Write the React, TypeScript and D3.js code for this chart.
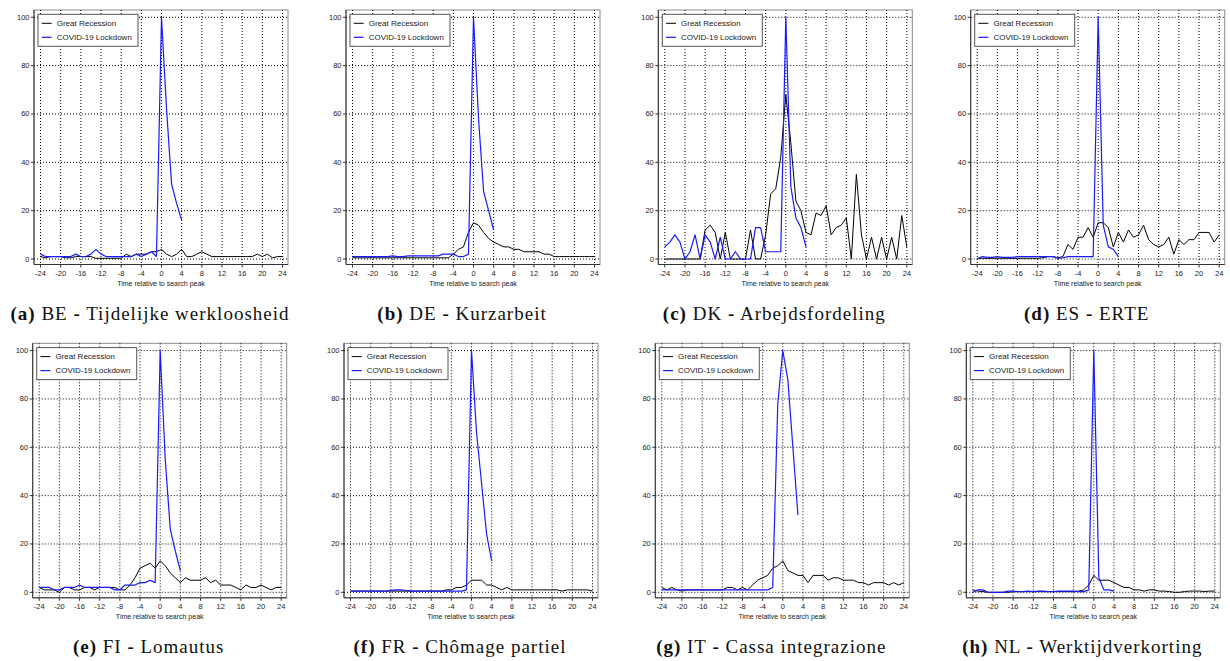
import React from "react";
import * as d3 from "d3";

// ---------- data ----------
const monthsGR = [-24,-23,-22,-21,-20,-19,-18,-17,-16,-15,-14,-13,-12,-11,-10,-9,-8,-7,-6,-5,-4,-3,-2,-1,0,1,2,3,4,5,6,7,8,9,10,11,12,13,14,15,16,17,18,19,20,21,22,23,24];
const monthsCOVID = [-24,-23,-22,-21,-20,-19,-18,-17,-16,-15,-14,-13,-12,-11,-10,-9,-8,-7,-6,-5,-4,-3,-2,-1,0,1,2,3,4];
const xTicks = [-24,-20,-16,-12,-8,-4,0,4,8,12,16,20,24];
const yTicks = [0,20,40,60,80,100];
const seriesNames = ["Great Recession", "COVID-19 Lockdown"];
const xTitle = "Time relative to search peak";

const beGR = [1,0.5,1,1,1,0.5,0.5,1,1,1, 1,0.3,0.3,0.3,0.3,0.3,0.3,2,1,2, 2,2,3,3,4,2,1,2,4,1, 1,2,3,2,1,1,1,1,1,1, 1,1,1,2,1,2,0.5,1,1];
const beCOVID = [2,1,1,1,1,1,1,2,1,1, 2,4,2,1,1,1,1,1,1,2, 1,2,3,1,100,62,31,23,16];

const deGR = [0.5,0.5,0.5,0.5,0.5,0.5,0.5,0.5,0.5,0.5, 0.5,0.5,0.5,0.5,0.5,0.5,0.5,0.5,0.5,0.5, 2,4,5,11,15,14,11,8.5,7,6, 5,5,4,4,3,3,3,3,2,2, 1,1,1,1,1,1,1,1,1];
const deCOVID = [1,1,1,1,1,1,1,1,1.3,1, 1,1.3,1.3,1.3,1.3,1.3,1.3,1.3,2,2, 2,1,1,2,100,58,28,20,12];

const dkGR = [0,0,0,0,0,0,0,0,12,14, 11,0,11,0,0,0,0,12,0,0, 10,27,29,42,68,48,24,20,11,10, 19,18,22,10,13,14,17,0,35,10, 0,9,0,9,0,9,0,18,5];
const dkCOVID = [5,7,10,7,0,3,10,0,10,7, 0,9,0,0,3,0,0,0,13,13, 3,3,3,3,100,30,17,13,5];

const esGR = [0.3,0.3,0.3,0.3,0.3,0.3,0.3,0.3,0.3,0.3, 0.3,0.3,0.3,0.5,1,1,0.5,1,6,4, 9,9,13,9,15,15,13,5,11,7, 12,9,10,14,8,6,5,6,9,2, 8,6,8,8,11,11,11,7,10];
const esCOVID = [0,1,0.7,0.7,1,0.7,0.7,0.7,1,1, 1,1,1,1,1,1,0.3,0.5,1,1, 1,1,1,1,100,14,5,4,1];

const fiGR = [2,1,1,1,0,2,2,1,1,2, 2,1,2,2,2,2,1,1,3,6, 10,11,12,10,13,11,8,6,4,6, 5,5,5,6,4,5,3,3,3,2, 1,3,2,2,3,2,1,2,2];
const fiCOVID = [2,2,2,1,1,2,2,2,3,2, 2,2,2,2,2,1,1,3,3,3, 4,4,5,4,100,55,26,17,9];

const frGR = [0.5,0.5,0.5,0.5,0.5,0.5,0.5,0.5,0.5,0.5, 0.5,0.5,0.5,0.5,0.5,0.5,0.5,0.5,0.5,1, 1,2,2,3,5,5,5,3,3,2, 1,2,1,1,1,1,1,1,1,1, 1,1,0.5,1,1,1,1,1,0.5];
const frCOVID = [0.5,0.5,0.5,0.5,0.5,0.5,0.5,0.5,0.8,1, 1,0.7,0.5,0.5,0.5,0.5,0.5,0.5,0.5,0.5, 0.5,0.5,0.5,1,100,66,45,24,13];

const itGR = [2,1,2,1,0.5,1,1,1,1,1, 1,1,1,2,2,1,2,1,3,5, 6,7,10,11,13,9,8,7,7,4, 7,7,7,5,6,6,5,5,5,4, 4,3,4,4,4,3,4,3,4];
const itCOVID = [1,1,1,1,1,1,1,1,1,1, 1,1,1,1,1,1,1,1,1,1, 1,1,2,78,100,88,60,32];

const nlGR = [1,0.5,0.3,0,0,0,0,0,0.3,0.3, 0.3,0.3,0.3,0.3,0.3,0.3,0.3,0.3,0.3,0.3, 0.3,0.5,1,3,7,5,5,5,4,3, 2,2,1,1,0.5,1,1,0.5,0.5,0.3, 0,0,0.3,0.5,0.5,0.5,0.3,0.5,0.5];
const nlCOVID = [0,1,1,0,0,0,0,0.5,0.5,0.3, 0.3,0.5,0.3,0.5,0.5,0.3,0.3,0.5,0.5,0.5, 0.5,0.3,0.3,1,100,6,1,1,0.5];

const panelLetters = ["a","b","c","d","e","f","g","h"];
const panelCodes = ["BE","DE","DK","ES","FI","FR","IT","NL"];
const panelNames = ["Tijdelijke werkloosheid","Kurzarbeit","Arbejdsfordeling","ERTE","Lomautus","Chômage partiel","Cassa integrazione","Werktijdverkorting"];
const grSeries = [beGR, deGR, dkGR, esGR, fiGR, frGR, itGR, nlGR];
const covidSeries = [beCOVID, deCOVID, dkCOVID, esCOVID, fiCOVID, frCOVID, itCOVID, nlCOVID];

// ---------- layout ----------
const frameLefts = [34, 346, 658.3, 970.7, 32.7, 344, 655.3, 966.3];
const frameTops = [10, 10, 10, 10, 343.3, 343.3, 343.3, 343.3];
const FRAME_W = 254;
const FRAME_H = 254.5;
const SANS = "'Liberation Sans', Arial, Helvetica, sans-serif";
const SERIF = "'Liberation Serif', 'Times New Roman', serif";
const BLUE = "#1a1aff";

function Panel({ idx }: { idx: number }) {
  const fl = frameLefts[idx];
  const ft = frameTops[idx];
  const x = d3.scaleLinear().domain([-24, 24]).range([fl + 6.5, fl + 248.5]);
  const y = d3.scaleLinear().domain([0, 100]).range([ft + 249, ft + 7.3]);
  const line = d3
    .line<[number, number]>()
    .x((d) => x(d[0]))
    .y((d) => y(d[1]));
  const gr = grSeries[idx].map((v, i) => [monthsGR[i], v] as [number, number]);
  const cv = covidSeries[idx].map((v, i) => [monthsCOVID[i], v] as [number, number]);
  const bottom = ft + FRAME_H;
  return (
    <g>
      <rect x={fl} y={ft} width={FRAME_W} height={FRAME_H} fill="white" stroke="#8a8a8a" strokeWidth={1} />
      {/* grid */}
      {xTicks.map((t) => (
        <line key={"gx" + t} x1={x(t)} x2={x(t)} y1={ft} y2={bottom} stroke="#000" strokeWidth={1} strokeDasharray="1,2" />
      ))}
      {yTicks.map((t) => (
        <line key={"gy" + t} x1={fl} x2={fl + FRAME_W} y1={y(t)} y2={y(t)} stroke="#000" strokeWidth={1} strokeDasharray="1,2" />
      ))}
      {/* axes */}
      <line x1={fl} x2={fl} y1={ft} y2={bottom} stroke="#333" strokeWidth={1} />
      <line x1={fl} x2={fl + FRAME_W} y1={bottom} y2={bottom} stroke="#333" strokeWidth={1} />
      {xTicks.map((t) => (
        <g key={"tx" + t}>
          <line x1={x(t)} x2={x(t)} y1={bottom} y2={bottom + 3} stroke="#333" strokeWidth={1} />
          <text x={x(t)} y={bottom + 8.5} textAnchor="middle" dominantBaseline="central" fontFamily={SANS} fontSize={7.5} fill="#222">
            {t}
          </text>
        </g>
      ))}
      {yTicks.map((t) => (
        <g key={"ty" + t}>
          <line x1={fl - 3} x2={fl} y1={y(t)} y2={y(t)} stroke="#333" strokeWidth={1} />
          <text x={fl - 4.5} y={y(t)} textAnchor="end" dominantBaseline="central" fontFamily={SANS} fontSize={7.5} fill="#222">
            {t}
          </text>
        </g>
      ))}
      <text x={fl + FRAME_W / 2} y={bottom + 19} textAnchor="middle" dominantBaseline="central" fontFamily={SANS} fontSize={7} fill="#222">
        {xTitle}
      </text>
      {/* legend */}
      <rect x={fl + 4} y={ft + 4.3} width={100} height={32} fill="white" stroke="#555" strokeWidth={1} />
      <line x1={fl + 7.7} x2={fl + 17.7} y1={ft + 13.3} y2={ft + 13.3} stroke="#000" strokeWidth={1} />
      <line x1={fl + 7.7} x2={fl + 17.7} y1={ft + 27.3} y2={ft + 27.3} stroke={BLUE} strokeWidth={1.2} />
      <text x={fl + 22.7} y={ft + 13.3} dominantBaseline="central" fontFamily={SANS} fontSize={8} fill="#222">
        {seriesNames[0]}
      </text>
      <text x={fl + 22.7} y={ft + 27.3} dominantBaseline="central" fontFamily={SANS} fontSize={8} fill="#222">
        {seriesNames[1]}
      </text>
      {/* series */}
      <path d={line(gr) || ""} fill="none" stroke="#000" strokeWidth={1} strokeLinejoin="round" />
      <path d={line(cv) || ""} fill="none" stroke={BLUE} strokeWidth={1.2} strokeLinejoin="round" />
      {/* caption */}
      <text x={fl + 116} y={ft + 310} textAnchor="middle" fontFamily={SERIF} fontSize={19} letterSpacing={1} fill="#111">
        <tspan fontWeight="bold">({panelLetters[idx]})</tspan>
        <tspan> {panelCodes[idx]} </tspan>
        <tspan fontWeight="bold">-</tspan>
        <tspan> {panelNames[idx]}</tspan>
      </text>
    </g>
  );
}

export default function App() {
  return (
    <svg
      width={1230}
      height={661}
      viewBox="0 0 1230 661"
      style={{ position: "absolute", left: 0, top: 0, background: "white" }}
    >
      <rect x={0} y={0} width={1230} height={661} fill="white" />
      {panelLetters.map((_, i) => (
        <Panel key={i} idx={i} />
      ))}
    </svg>
  );
}
